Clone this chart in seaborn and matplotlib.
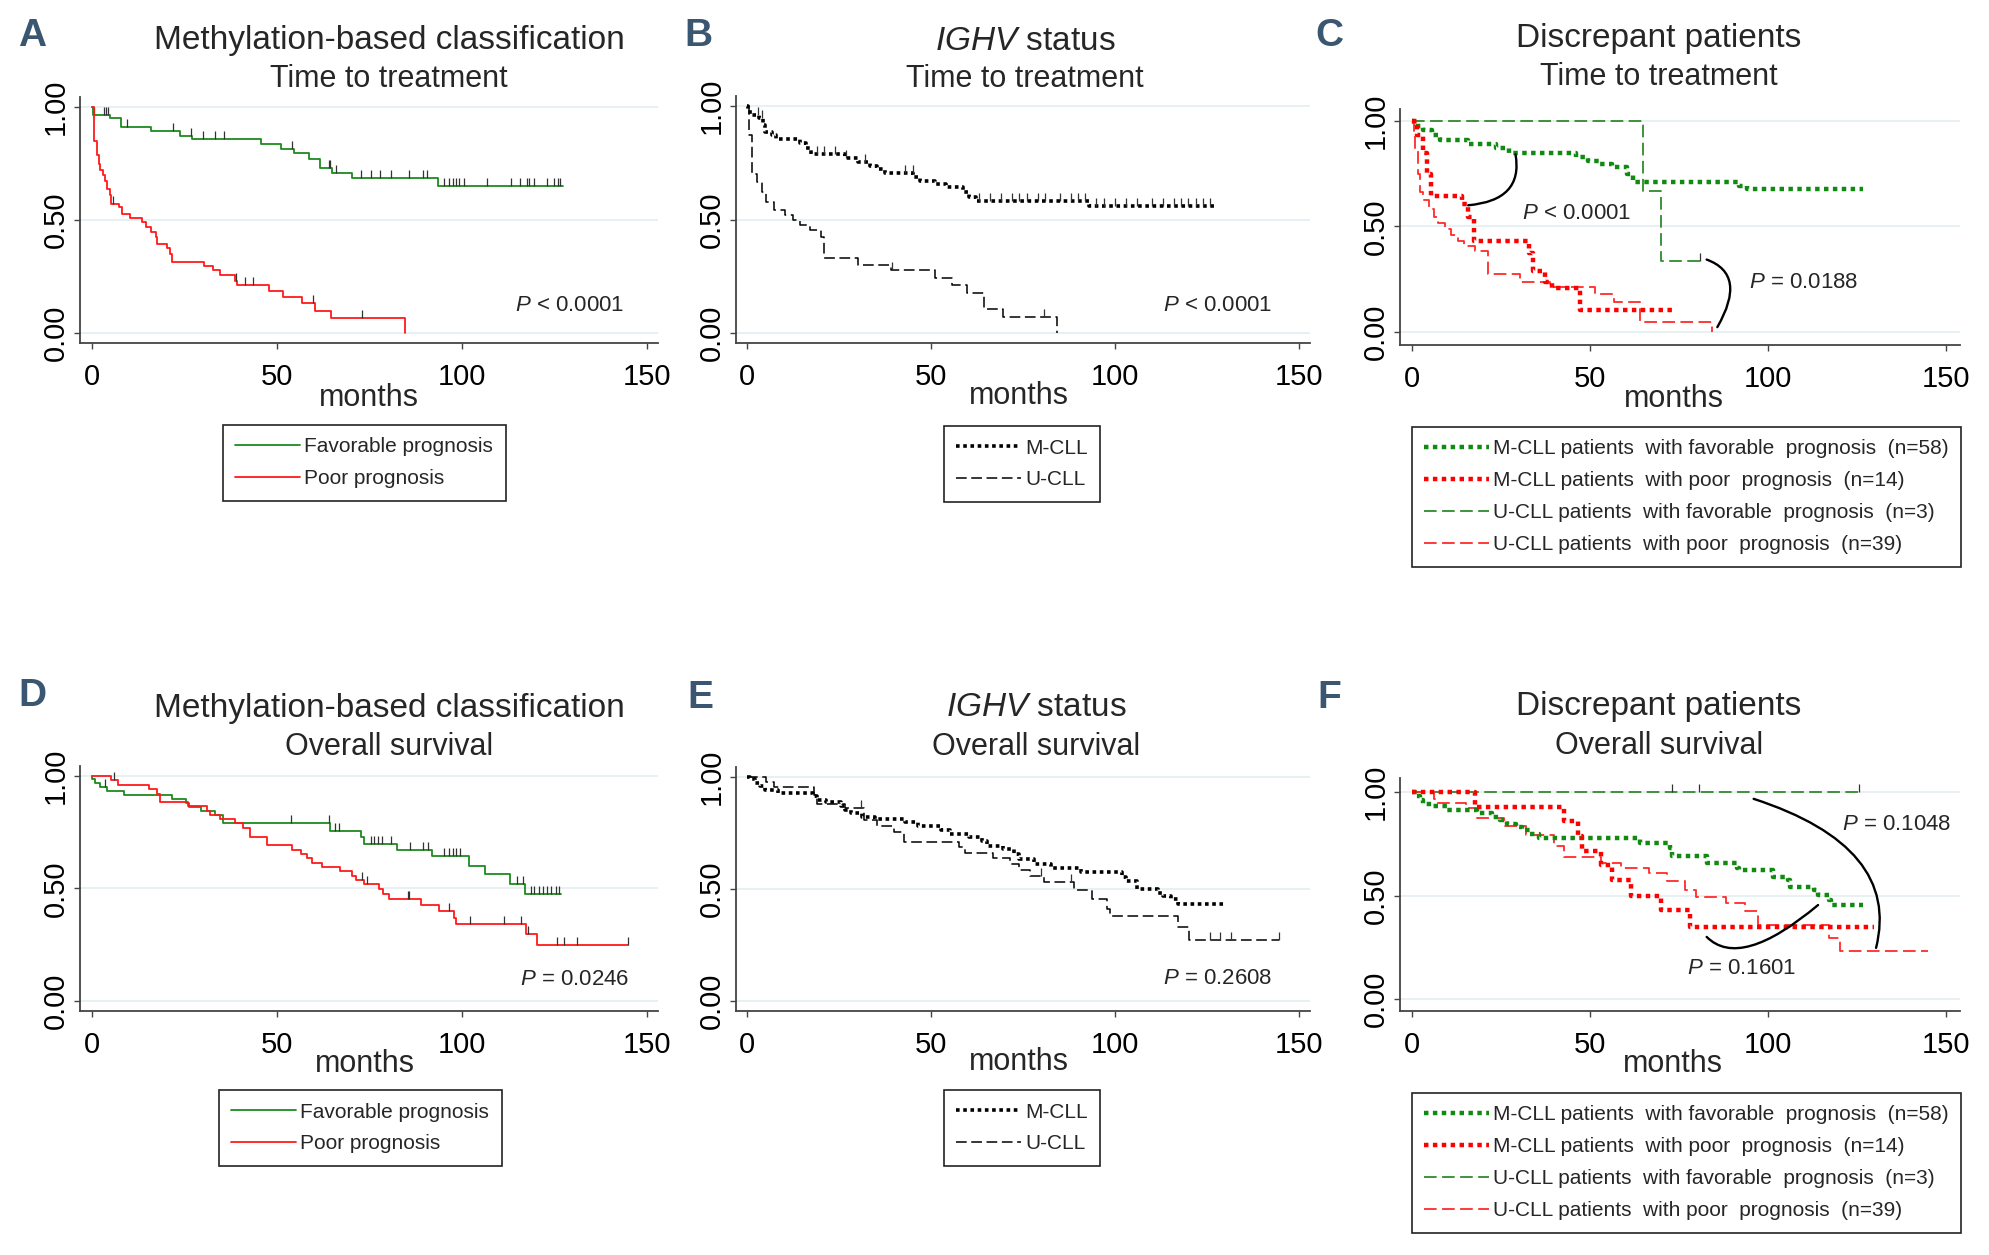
import numpy as np
import pandas as pd
import matplotlib
matplotlib.use("Agg")
import matplotlib.pyplot as plt
import seaborn as sns

W, H = 1990, 1255

# ---------------- data ----------------
# A: methylation-based classification, time to treatment
tA_fav = [0, 0.3, 4.9, 8.1, 16.1, 24.0, 27.2, 45.8, 51.2, 54.7, 58.8, 61.7, 64.9, 70.4, 93.5, 127.2]
sA_fav = [1.0, 0.966, 0.952, 0.912, 0.896, 0.875, 0.860, 0.838, 0.816, 0.796, 0.773, 0.729, 0.707, 0.685, 0.650, 0.650]
cA_fav = [0.8, 3.5, 3.9, 4.5, 9.7, 22.0, 26.9, 30.1, 33.3, 35.9, 54.1, 64.0, 64.5, 66.1, 72.7, 75.6,
          77.9, 80.8, 85.7, 89.5, 90.6, 95.3, 96.4, 97.6, 98.5, 99.3, 100.5, 106.9, 113.2, 115.6,
          117.7, 118.1, 119.4, 123.1, 124.8, 126.0, 126.6]
tA_poor = [0, 0.8, 1.4, 2.0, 2.3, 3.1, 3.7, 4.3, 4.9, 5.4, 7.5, 8.3, 10.3, 13.6, 14.7, 16.2, 17.3,
           17.6, 20.5, 21.1, 21.7, 30.4, 32.7, 34.7, 38.8, 39.4, 47.8, 51.6, 56.8, 60.3, 64.6, 84.6]
sA_poor = [1.0, 0.85, 0.79, 0.748, 0.72, 0.70, 0.675, 0.64, 0.61, 0.573, 0.558, 0.529, 0.51, 0.493,
           0.471, 0.449, 0.424, 0.394, 0.376, 0.351, 0.315, 0.296, 0.278, 0.258, 0.230, 0.211, 0.184,
           0.160, 0.133, 0.098, 0.066, 0.0]
cA_poor = [5.7, 39.0, 41.4, 43.7, 59.9, 73.0]

# B: IGHV status, time to treatment
tB_m = [0, 0.2, 1.4, 3.2, 4.3, 4.9, 6.7, 7.8, 14.3, 16.0, 17.4, 26.5, 30.0, 33.5, 35.3, 37.6, 45.2,
        47.0, 51.1, 54.0, 58.6, 60.4, 62.1, 93.1, 127.0]
sB_m = [1.0, 0.975, 0.96, 0.946, 0.917, 0.886, 0.871, 0.855, 0.838, 0.816, 0.79, 0.772, 0.754, 0.736,
        0.722, 0.707, 0.686, 0.671, 0.657, 0.642, 0.62, 0.599, 0.58, 0.558, 0.558]
cB_m = [3.0, 4.0, 19.0, 21.0, 24.0, 27.0, 32.0, 43.0, 45.0, 63.0, 66.0, 69.0, 72.0, 74.0, 76.0, 79.0,
        81.0, 85.0, 88.0, 90.0, 92.0, 95.0, 97.0, 100.0, 103.0, 106.0, 110.0, 113.0, 116.0, 118.0,
        120.0, 122.0, 124.0, 126.0]
tB_u = [0, 0.5, 1.2, 2.6, 4.0, 5.1, 7.2, 10.2, 12.5, 14.3, 17.2, 20.1, 21.0, 30.0, 39.0, 51.1, 55.7,
        59.8, 64.3, 69.7, 84.3]
sB_u = [1.0, 0.874, 0.70, 0.664, 0.62, 0.577, 0.54, 0.522, 0.497, 0.475, 0.454, 0.425, 0.33, 0.301,
        0.277, 0.243, 0.21, 0.178, 0.106, 0.072, 0.0]
cB_u = [39.4, 80.6]

# C: discrepant patients, time to treatment
tC_mf = [0, 0.6, 3.0, 5.4, 7.8, 15.7, 23.5, 27.2, 45.9, 49.5, 52.5, 56.1, 60.3, 62.1, 91.7, 94.1, 126.7]
sC_mf = [1.0, 0.974, 0.958, 0.935, 0.907, 0.888, 0.872, 0.849, 0.829, 0.81, 0.794, 0.779, 0.748, 0.712,
         0.693, 0.678, 0.678]
tC_mp = [0, 1.2, 3.0, 4.2, 5.2, 13.9, 15.7, 17.3, 32.9, 34.0, 37.4, 39.2, 47.1, 73.0]
sC_mp = [1.0, 0.935, 0.849, 0.748, 0.646, 0.607, 0.545, 0.431, 0.374, 0.288, 0.237, 0.21, 0.104, 0.104]
tC_uf = [0, 64.8, 70.0, 80.8]
sC_uf = [1.0, 0.667, 0.335, 0.335]
tC_up = [0, 0.4, 0.8, 1.6, 2.1, 3.0, 4.8, 6.0, 7.2, 9.1, 10.9, 12.7, 14.5, 17.5, 21.4, 30.2, 38.6,
         51.3, 56.7, 64.0, 84.1]
sC_up = [1.0, 0.95, 0.857, 0.748, 0.662, 0.623, 0.584, 0.545, 0.514, 0.486, 0.46, 0.433, 0.405, 0.382,
         0.273, 0.238, 0.215, 0.179, 0.14, 0.047, 0.0]

# D: methylation-based classification, overall survival
tD_fav = [0, 0.2, 1.0, 2.3, 4.1, 8.9, 21.7, 25.4, 26.3, 29.6, 33.3, 35.4, 64.3, 72.7, 73.6, 82.5, 92.0,
          102.0, 106.3, 113.0, 117.1, 126.9]
sD_fav = [1.0, 0.987, 0.968, 0.949, 0.934, 0.917, 0.899, 0.88, 0.861, 0.844, 0.825, 0.792, 0.756, 0.727,
          0.697, 0.671, 0.643, 0.602, 0.563, 0.522, 0.475, 0.475]
cD_fav = [3.7, 53.8, 64.0, 65.8, 66.9, 75.6, 76.4, 77.3, 78.5, 81.0, 86.0, 89.5, 90.9, 95.3, 96.4, 97.6,
          98.5, 99.6, 115.0, 116.5, 118.6, 119.6, 120.8, 121.9, 123.1, 124.2, 125.4, 126.2]
tD_poor = [0, 5.2, 7.2, 15.6, 17.6, 18.5, 26.1, 31.3, 32.1, 34.8, 38.8, 40.8, 42.9, 47.5, 54.1, 56.5,
           58.2, 59.6, 62.2, 67.2, 70.4, 71.5, 73.5, 77.5, 78.7, 80.2, 89.1, 93.8, 97.8, 98.4, 117.3,
           120.4, 144.8]
sD_poor = [1.0, 0.982, 0.96, 0.942, 0.92, 0.883, 0.865, 0.846, 0.826, 0.81, 0.789, 0.77, 0.731, 0.694,
           0.671, 0.654, 0.636, 0.614, 0.595, 0.576, 0.556, 0.537, 0.519, 0.496, 0.475, 0.452, 0.427,
           0.402, 0.368, 0.344, 0.298, 0.25, 0.25]
cD_poor = [6.0, 73.0, 74.4, 85.4, 85.8, 96.4, 102.2, 111.5, 116.1, 117.9, 125.7, 127.7, 131.2, 144.8]

# E: IGHV status, overall survival
tE_m = [0, 0.8, 2.2, 3.4, 4.9, 8.4, 17.8, 18.9, 21.3, 25.4, 26.5, 28.3, 31.2, 34.7, 42.9, 46.4, 52.8,
        55.1, 60.4, 63.9, 65.1, 69.7, 72.7, 73.8, 77.9, 82.6, 90.8, 101.9, 103.0, 106.0, 111.8, 113.0,
        115.3, 117.1, 129.9]
sE_m = [1.0, 0.99, 0.97, 0.956, 0.941, 0.927, 0.912, 0.897, 0.886, 0.868, 0.853, 0.839, 0.821, 0.809,
        0.799, 0.78, 0.761, 0.743, 0.729, 0.711, 0.692, 0.677, 0.655, 0.633, 0.611, 0.594, 0.576, 0.553,
        0.535, 0.501, 0.482, 0.468, 0.453, 0.431, 0.431]
tE_u = [0, 5.1, 7.2, 18.3, 18.9, 26.5, 31.8, 35.3, 40.0, 42.6, 57.5, 59.2, 66.8, 71.5, 73.8, 76.8, 80.8,
        89.0, 93.7, 97.8, 98.6, 117.1, 120.2, 144.7]
sE_u = [1.0, 0.978, 0.953, 0.919, 0.878, 0.858, 0.808, 0.78, 0.751, 0.707, 0.685, 0.658, 0.636, 0.611,
        0.582, 0.556, 0.531, 0.494, 0.453, 0.409, 0.38, 0.328, 0.271, 0.271]
cE_u = [31.0, 80.0, 88.0, 126.0, 128.5, 131.5, 144.7]

# F: discrepant patients, overall survival
tF_mf = [0, 0.8, 2.1, 3.0, 5.4, 9.7, 18.1, 22.3, 24.7, 26.5, 29.0, 30.8, 33.2, 35.6, 64.0, 72.4, 73.0,
         82.7, 91.1, 91.7, 101.4, 105.6, 106.2, 112.8, 114.0, 117.1, 117.7, 126.7]
sF_mf = [1.0, 0.979, 0.963, 0.943, 0.932, 0.911, 0.9, 0.879, 0.865, 0.847, 0.831, 0.815, 0.796, 0.78,
         0.752, 0.729, 0.693, 0.656, 0.634, 0.624, 0.589, 0.573, 0.541, 0.525, 0.502, 0.478, 0.454, 0.454]
tF_mp = [0, 17.5, 42.6, 46.5, 47.7, 53.1, 56.1, 61.5, 70.0, 78.1, 129.7]
sF_mp = [1.0, 0.927, 0.86, 0.788, 0.717, 0.645, 0.573, 0.497, 0.43, 0.346, 0.346]
tF_uf = [0, 125.5]
sF_uf = [1.0, 1.0]
cF_uf = [73.0, 80.6, 125.5]
tF_up = [0, 6.0, 6.6, 15.1, 18.1, 25.9, 32.0, 39.8, 42.6, 53.1, 58.5, 66.4, 71.6, 76.6, 79.6, 88.1,
         93.5, 97.1, 117.0, 120.1, 144.8]
sF_up = [1.0, 0.968, 0.947, 0.924, 0.876, 0.836, 0.793, 0.741, 0.685, 0.656, 0.632, 0.61, 0.568, 0.525,
         0.494, 0.462, 0.427, 0.358, 0.295, 0.231, 0.231]

fav_labels = ["Favorable prognosis", "Poor prognosis"]
ighv_labels = ["M-CLL", "U-CLL"]
disc_labels = ["M-CLL patients  with favorable  prognosis  (n=58)",
               "M-CLL patients  with poor  prognosis  (n=14)",
               "U-CLL patients  with favorable  prognosis  (n=3)",
               "U-CLL patients  with poor  prognosis  (n=39)"]
x_ticks = [0, 50, 100, 150]
y_ticks = [0.0, 0.5, 1.0]
y_ticklabels = ["0.00", "0.50", "1.00"]

GREEN = "#1f8a1f"
RED = "#ff1a1a"
DOT = (0, (1, 1))
DASH = (0, (7, 3))


def px(x, y):
    # pixel position (from top left) -> figure fraction
    return x / W, 1 - y / H


def step_value(times, surv, t):
    idx = np.searchsorted(np.asarray(times), np.asarray(t), side="right") - 1
    return np.asarray(surv)[idx]


def make_axes(fig, anchors, xlim, ylim):
    # anchors: pixel x of month 0 and 150, pixel y of 1.0 and 0.0
    x0, x150, y1, y0 = anchors
    sx = (x150 - x0) / 150.0
    sy = y0 - y1
    left = x0 + xlim[0] * sx
    right = x0 + xlim[1] * sx
    top = y0 - ylim[1] * sy
    bottom = y0 - ylim[0] * sy
    ax = fig.add_axes([left / W, 1 - bottom / H, (right - left) / W, (bottom - top) / H])
    ax.set_xlim(xlim)
    ax.set_ylim(ylim)
    return ax


def style_axes(ax):
    sns.despine(ax=ax)
    for side in ["left", "bottom"]:
        ax.spines[side].set_color("#444444")
        ax.spines[side].set_linewidth(1.3)
    ax.set_xticks(x_ticks)
    ax.set_yticks(y_ticks)
    ax.set_yticklabels(y_ticklabels)
    ax.tick_params(axis="both", direction="out", length=4.5, width=1.0, color="#444444",
                   labelsize=21, labelcolor="black")
    ax.tick_params(axis="x", pad=10)
    ax.tick_params(axis="y", pad=3)
    for lab in ax.get_yticklabels():
        lab.set_rotation(90)
        lab.set_va("center")
        lab.set_ha("right")
    ax.yaxis.grid(True, color="#e3eef0", lw=1.2)
    ax.xaxis.grid(False)
    ax.set_axisbelow(True)
    ax.set_xlabel("")
    ax.set_ylabel("")


def km_line(ax, times, surv, color, lw, ls, censor=None, tick_color="#333333"):
    df = pd.DataFrame({"months": times, "surv": surv})
    sns.lineplot(data=df, x="months", y="surv", ax=ax, color=color, lw=lw, ls=ls,
                 drawstyle="steps-post", estimator=None, errorbar=None, legend=False)
    line = ax.lines[-1]
    if censor is not None:
        ax.plot(censor, step_value(times, surv, censor), ls="none", marker=2, ms=6,
                mew=0.9, color=tick_color)
    return line


def add_titles(fig, cx, y_title, y_sub, title, subtitle, letter, letter_xy):
    fig.text(*px(cx, y_title), title, ha="center", va="center", fontsize=24)
    fig.text(*px(cx, y_sub), subtitle, ha="center", va="center", fontsize=22)
    fig.text(*px(*letter_xy), letter, ha="center", va="center", fontsize=28, fontweight="bold",
             color="#3b5670", family=["Liberation Sans Narrow", "Liberation Sans"])


def add_legend(fig, handles, labels, top_left):
    leg = fig.legend(handles, labels, loc="upper left", bbox_to_anchor=px(*top_left),
                     frameon=True, fancybox=False, framealpha=1, edgecolor="#222222",
                     fontsize=15, handlelength=3.1, handletextpad=0.2, borderpad=0.6,
                     labelspacing=0.62, borderaxespad=0)
    leg.get_frame().set_linewidth(1.2)


def brace(ax, start, end, angle_a, angle_b):
    ax.annotate("", xy=end, xytext=start,
                arrowprops=dict(arrowstyle="-", color="black", lw=1.7, shrinkA=0, shrinkB=0,
                                connectionstyle=f"angle3,angleA={angle_a},angleB={angle_b}"))


def main():
    sns.set_theme(style="ticks")
    plt.rcParams["font.family"] = ["Liberation Sans", "DejaVu Sans"]
    plt.rcParams["mathtext.fontset"] = "custom"
    plt.rcParams["mathtext.rm"] = "Liberation Sans"
    plt.rcParams["mathtext.it"] = "Liberation Sans:italic"

    fig = plt.figure(figsize=(W / 100, H / 100), dpi=100)

    lim_ab = ((-3, 153), (-0.044, 1.045))
    lim_c = ((-3.4, 154), (-0.062, 1.056))
    lim_f = ((-3.4, 154), (-0.058, 1.07))

    # ---- A ----
    ax = make_axes(fig, (91.5, 647, 107.3, 333), *lim_ab)
    h1 = km_line(ax, tA_fav, sA_fav, GREEN, 1.3, "-", cA_fav)
    h2 = km_line(ax, tA_poor, sA_poor, RED, 1.3, "-", cA_poor)
    style_axes(ax)
    ax.text(114.4, 0.12, "$P$ < 0.0001", fontsize=16, va="center")
    add_titles(fig, 389, 41, 79, "Methylation-based classification", "Time to treatment", "A", (32, 36))
    fig.text(*px(369, 398), "months", ha="center", va="center", fontsize=22)
    add_legend(fig, [h1, h2], fav_labels, (223, 425))

    # ---- B ----
    ax = make_axes(fig, (747.2, 1298.7, 106, 333), *lim_ab)
    h1 = km_line(ax, tB_m, sB_m, "black", 2.6, DOT, cB_m)
    h2 = km_line(ax, tB_u, sB_u, "black", 1.1, DASH, cB_u)
    style_axes(ax)
    ax.text(113.2, 0.12, "$P$ < 0.0001", fontsize=16, va="center")
    add_titles(fig, 1025, 41, 79, "$IGHV$ status", "Time to treatment", "B", (698, 36))
    fig.text(*px(1019, 396), "months", ha="center", va="center", fontsize=22)
    add_legend(fig, [h1, h2], ighv_labels, (944, 426))

    # ---- C ----
    ax = make_axes(fig, (1412.3, 1946.2, 120.8, 332), *lim_c)
    h3 = km_line(ax, tC_uf, sC_uf, "#2e8b2e", 1.3, DASH, [80.8])
    h4 = km_line(ax, tC_up, sC_up, "#ff2a2a", 1.3, DASH)
    h1 = km_line(ax, tC_mf, sC_mf, "#108a10", 3.2, DOT)
    h2 = km_line(ax, tC_mp, sC_mp, "#ff0000", 3.2, DOT)
    style_axes(ax)
    brace(ax, (29.0, 0.841), (15.7, 0.60), -80, 5)
    brace(ax, (82.7, 0.343), (85.7, 0.023), -20, 60)
    ax.text(30.8, 0.56, "$P$ < 0.0001", fontsize=16, va="center")
    ax.text(94.7, 0.233, "$P$ = 0.0188", fontsize=16, va="center")
    add_titles(fig, 1659, 39, 77, "Discrepant patients", "Time to treatment", "C", (1329, 36))
    fig.text(*px(1674, 399), "months", ha="center", va="center", fontsize=22)
    add_legend(fig, [h1, h2, h3, h4], disc_labels, (1412, 427))

    # ---- D ----
    ax = make_axes(fig, (91.5, 647, 776, 1001), *lim_ab)
    h1 = km_line(ax, tD_fav, sD_fav, GREEN, 1.3, "-", cD_fav)
    h2 = km_line(ax, tD_poor, sD_poor, RED, 1.3, "-", cD_poor)
    style_axes(ax)
    ax.text(115.6, 0.095, "$P$ = 0.0246", fontsize=16, va="center")
    add_titles(fig, 389, 708, 747, "Methylation-based classification", "Overall survival", "D", (32, 696))
    fig.text(*px(365, 1064), "months", ha="center", va="center", fontsize=22)
    add_legend(fig, [h1, h2], fav_labels, (219, 1090))

    # ---- E ----
    ax = make_axes(fig, (747.2, 1298.7, 776.6, 1001), *lim_ab)
    h1 = km_line(ax, tE_m, sE_m, "black", 2.6, DOT)
    h2 = km_line(ax, tE_u, sE_u, "black", 1.1, DASH, cE_u)
    style_axes(ax)
    ax.text(113.2, 0.1, "$P$ = 0.2608", fontsize=16, va="center")
    add_titles(fig, 1036, 708, 747, "$IGHV$ status", "Overall survival", "E", (700, 698))
    fig.text(*px(1019, 1062), "months", ha="center", va="center", fontsize=22)
    add_legend(fig, [h1, h2], ighv_labels, (944, 1090))

    # ---- F ----
    ax = make_axes(fig, (1412.3, 1946.2, 792, 999), *lim_f)
    h3 = km_line(ax, tF_uf, sF_uf, "#2e8b2e", 1.3, DASH, cF_uf)
    h4 = km_line(ax, tF_up, sF_up, "#ff2a2a", 1.3, DASH)
    h1 = km_line(ax, tF_mf, sF_mf, "#108a10", 3.2, DOT)
    h2 = km_line(ax, tF_mp, sF_mp, "#ff0000", 3.2, DOT)
    style_axes(ax)
    brace(ax, (95.9, 0.967), (130.3, 0.247), -18, 76)
    brace(ax, (114.0, 0.454), (82.7, 0.30), 40, -45)
    ax.text(120.7, 0.845, "$P$ = 0.1048", fontsize=16, va="center")
    ax.text(77.2, 0.145, "$P$ = 0.1601", fontsize=16, va="center")
    add_titles(fig, 1659, 707, 746, "Discrepant patients", "Overall survival", "F", (1329, 698))
    fig.text(*px(1673, 1064), "months", ha="center", va="center", fontsize=22)
    add_legend(fig, [h1, h2, h3, h4], disc_labels, (1412, 1093))

    fig.savefig("out.png", dpi=100)


if __name__ == "__main__":
    main()
